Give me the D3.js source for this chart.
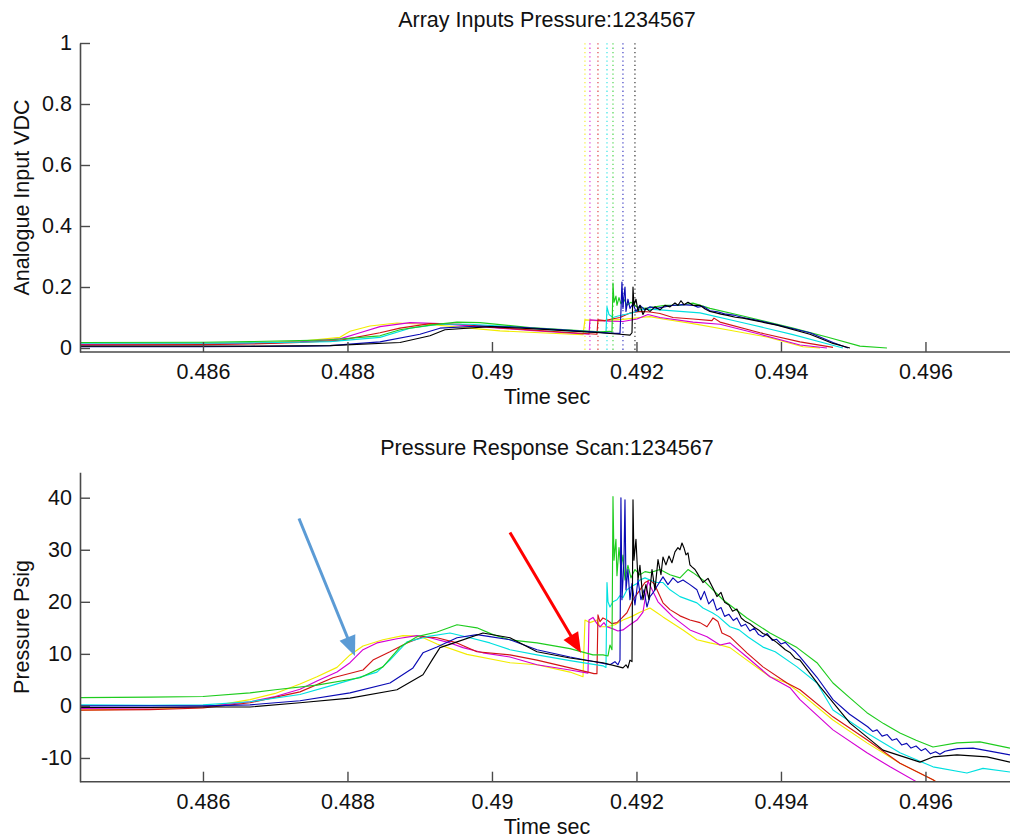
<!DOCTYPE html>
<html><head><meta charset="utf-8">
<script src="https://cdn.jsdelivr.net/npm/d3@7/dist/d3.min.js"></script>
<style>
body{margin:0;background:#fff;}
svg{display:block;}
text{font-family:"Liberation Sans",Arial,sans-serif;fill:#111;}
</style></head><body>
<svg id="chart" width="1010" height="840"></svg>
<script>
// ---------------- data ----------------
const channelNames = ["1","2","3","4","5","6","7"];
const channelColors = ["#f2ec00","#d400d4","#d21414","#00e0e0","#1ecc1e","#0a0ab4","#000000"];
const timeTicks = [0.486,0.488,0.49,0.492,0.494,0.496];
const timeTickLabels = ["0.486","0.488","0.49","0.492","0.494","0.496"];
const vdcTicks = [0,0.2,0.4,0.6,0.8,1];
const vdcTickLabels = ["0","0.2","0.4","0.6","0.8","1"];
const psigTicks = [-10,0,10,20,30,40];
const psigTickLabels = ["-10","0","10","20","30","40"];
const timeDomain = [0.484298,0.49717];
const vdcDomain = [-0.0131,1];
const psigDomain = [-14.56,44.88];
const triggerTimes = [0.491287,0.491356,0.491467,0.491592,0.491675,0.491813,0.491979];

// Analogue input VDC per channel [time s, VDC]
const vdcYellow = [[0.484298,0.012],[0.486,0.013],[0.486651,0.016],[0.487343,0.022],[0.487896,0.035],[0.488035,0.055],[0.488311,0.072],[0.488685,0.082],[0.489142,0.077],[0.489654,0.066],[0.490111,0.056],[0.490664,0.050],[0.49126,0.044],[0.491287,0.092],[0.491495,0.089],[0.491813,0.094],[0.492048,0.1],[0.492187,0.103],[0.492367,0.095],[0.492782,0.08],[0.493253,0.06],[0.493806,0.036],[0.494304,0.004],[0.49454,0]];
const vdcMagenta = [[0.484298,0.012],[0.486,0.013],[0.486651,0.015],[0.487343,0.02],[0.487896,0.03],[0.488173,0.05],[0.48845,0.07],[0.488865,0.083],[0.48928,0.08],[0.489834,0.07],[0.490526,0.058],[0.491343,0.045],[0.491356,0.092],[0.491495,0.09],[0.491633,0.088],[0.491813,0.087],[0.492007,0.095],[0.492159,0.11],[0.492325,0.1],[0.492782,0.085],[0.493156,0.078],[0.493709,0.045],[0.494263,0.01],[0.494637,0]];
const vdcRed = [[0.484298,0.01],[0.486,0.011],[0.486651,0.013],[0.487343,0.018],[0.487896,0.025],[0.48845,0.05],[0.488727,0.065],[0.489142,0.08],[0.489557,0.078],[0.490111,0.066],[0.490803,0.055],[0.491453,0.045],[0.491467,0.092],[0.491564,0.09],[0.491661,0.095],[0.491772,0.1],[0.49191,0.115],[0.492048,0.12],[0.492187,0.118],[0.492325,0.113],[0.492505,0.1],[0.492782,0.095],[0.493045,0.09],[0.493073,0.098],[0.493156,0.085],[0.493709,0.05],[0.494263,0.02],[0.49472,0.002]];
const vdcCyan = [[0.484298,0.016],[0.486,0.016],[0.486651,0.017],[0.487343,0.019],[0.487758,0.021],[0.48845,0.035],[0.488865,0.065],[0.48928,0.078],[0.489695,0.078],[0.490249,0.07],[0.490941,0.058],[0.491578,0.05],[0.491592,0.134],[0.491619,0.11],[0.491675,0.1],[0.491744,0.105],[0.491841,0.11],[0.491938,0.115],[0.492048,0.125],[0.492187,0.127],[0.492325,0.125],[0.492602,0.12],[0.492879,0.115],[0.493474,0.083],[0.494166,0.044],[0.494637,0.014],[0.494858,0]];
const vdcGreen = [[0.484298,0.018],[0.486,0.019],[0.486651,0.021],[0.487343,0.024],[0.487758,0.027],[0.48845,0.04],[0.488727,0.06],[0.489142,0.075],[0.489516,0.085],[0.489834,0.083],[0.490526,0.067],[0.491495,0.053],[0.491633,0.055],[0.491661,0.052],[0.491675,0.213],[0.491689,0.15],[0.491716,0.17],[0.49173,0.14],[0.491758,0.165],[0.491785,0.145],[0.491827,0.16],[0.491868,0.14],[0.491924,0.15],[0.492007,0.135],[0.492118,0.13],[0.492256,0.135],[0.492394,0.14],[0.492602,0.14],[0.492782,0.147],[0.493017,0.13],[0.493474,0.105],[0.494166,0.065],[0.494637,0.036],[0.495093,0.006],[0.495467,0]];
const vdcBlue = [[0.484298,0.004],[0.486,0.004],[0.486651,0.005],[0.487343,0.006],[0.487758,0.008],[0.48845,0.02],[0.489003,0.045],[0.48928,0.065],[0.489834,0.072],[0.490388,0.068],[0.49108,0.058],[0.491702,0.048],[0.491772,0.048],[0.491785,0.12],[0.491799,0.216],[0.491813,0.13],[0.491827,0.17],[0.491841,0.2],[0.491855,0.12],[0.491882,0.16],[0.49191,0.13],[0.491952,0.145],[0.491993,0.12],[0.492048,0.14],[0.492118,0.125],[0.492187,0.135],[0.492284,0.13],[0.492367,0.134],[0.492505,0.14],[0.492644,0.142],[0.492782,0.14],[0.49285,0.134],[0.49292,0.137],[0.493017,0.122],[0.49312,0.119],[0.49322,0.112],[0.49334,0.108],[0.493474,0.1],[0.49362,0.093],[0.49378,0.085],[0.493945,0.076],[0.494401,0.05],[0.49472,0.018],[0.494927,0]];
const vdcBlack = [[0.484298,0.006],[0.486,0.006],[0.486651,0.006],[0.487343,0.007],[0.487758,0.008],[0.488727,0.018],[0.489142,0.04],[0.489349,0.06],[0.489972,0.07],[0.490664,0.062],[0.491495,0.05],[0.491772,0.045],[0.49191,0.042],[0.491938,0.05],[0.491952,0.2],[0.491965,0.14],[0.491993,0.16],[0.492021,0.12],[0.492048,0.14],[0.49209,0.11],[0.492131,0.13],[0.492187,0.12],[0.492256,0.135],[0.492325,0.125],[0.492394,0.14],[0.492464,0.135],[0.492533,0.148],[0.492574,0.14],[0.492616,0.155],[0.492657,0.142],[0.492713,0.15],[0.492782,0.14],[0.492879,0.14],[0.49295,0.128],[0.493017,0.12],[0.49309,0.116],[0.49317,0.111],[0.49326,0.107],[0.49337,0.101],[0.493474,0.098],[0.493945,0.075],[0.494401,0.045],[0.49472,0.015],[0.494955,0]];

// Pressure Psig per channel [time s, psig]
const psiYellow = [[0.484298,-0.8],[0.485266,-0.6],[0.486,-0.3],[0.486651,1.2],[0.487,2.4],[0.487343,4.2],[0.487578,5.6],[0.487855,7.4],[0.488035,9.8],[0.488215,11.5],[0.488491,12.7],[0.488768,13.5],[0.489003,13.4],[0.489239,11.9],[0.489654,9.9],[0.490249,8.3],[0.490623,7.9],[0.49108,6.5],[0.49126,5.6],[0.491287,16.5],[0.491356,16.0],[0.491453,16.5],[0.491495,15.2],[0.491592,15.2],[0.491702,15.6],[0.491813,16.5],[0.491938,17.2],[0.492048,18.0],[0.492187,18.8],[0.492284,17.9],[0.492367,17.1],[0.492644,14.6],[0.492837,12.7],[0.493017,12.1],[0.493156,11.7],[0.493294,11.2],[0.493529,8.8],[0.493848,5.6],[0.494083,4.4],[0.494263,2.5],[0.49472,-2.7],[0.49519,-7.1],[0.495647,-11.0],[0.496104,-14.2],[0.4963,-16]];
const psiMagenta = [[0.484298,-0.5],[0.485266,-0.4],[0.486,-0.2],[0.486651,0.8],[0.487,1.8],[0.487343,3.2],[0.487578,4.8],[0.487855,6.5],[0.488035,8.3],[0.488215,10.8],[0.488408,12.1],[0.488685,12.9],[0.488962,13.5],[0.489142,13.1],[0.489419,12.1],[0.489599,11.2],[0.489875,10.2],[0.490249,9.4],[0.490623,7.9],[0.49108,6.9],[0.491329,6.3],[0.491343,16.5],[0.491398,17.0],[0.491453,15.8],[0.491495,15.2],[0.49155,16.0],[0.491592,15.2],[0.491675,14.8],[0.491744,14.4],[0.491813,14.6],[0.49191,15.6],[0.492007,16.5],[0.49209,18.0],[0.492159,24.0],[0.492228,22.0],[0.492298,20.0],[0.492367,19.0],[0.492505,17.1],[0.49274,14.6],[0.492976,13.3],[0.493156,11.7],[0.493294,12.1],[0.493529,9.4],[0.493848,5.6],[0.494125,3.5],[0.494263,1.2],[0.49472,-4.6],[0.49519,-9.0],[0.49551,-11.7],[0.49588,-14.6],[0.4961,-16]];
const psiRed = [[0.484298,-0.8],[0.485266,-0.7],[0.486,-0.4],[0.486651,0.6],[0.487343,2.7],[0.487799,5.4],[0.488215,6.9],[0.488353,8.8],[0.488588,10.4],[0.488824,12.1],[0.489045,13.3],[0.489239,13.1],[0.489516,12.1],[0.489792,10.4],[0.490249,9.8],[0.490623,8.8],[0.49108,7.3],[0.491329,6.5],[0.491412,6.2],[0.491453,6.2],[0.491467,17.5],[0.491495,16.2],[0.491536,16.9],[0.491592,16.5],[0.491661,15.8],[0.49173,16.0],[0.491799,16.9],[0.491868,17.9],[0.491952,20.4],[0.492048,22.3],[0.492118,23.7],[0.492187,24.2],[0.492256,23.3],[0.492284,22.3],[0.492367,19.8],[0.492464,18.5],[0.492602,17.3],[0.49274,16.5],[0.492879,16.0],[0.492976,15.2],[0.493059,16.9],[0.493128,16.2],[0.493183,14.0],[0.493294,13.3],[0.493529,10.2],[0.493751,7.5],[0.494083,4.4],[0.494263,3.1],[0.49472,-2.1],[0.49519,-6.5],[0.495647,-11.0],[0.496104,-14.2],[0.4963,-16]];
const psiCyan = [[0.484298,0.2],[0.485266,0.1],[0.486,0.2],[0.486651,0.8],[0.487343,2.2],[0.487799,4.0],[0.488408,6.5],[0.488588,8.8],[0.488824,12.3],[0.4891,13.3],[0.489419,14.0],[0.489695,13.1],[0.489972,12.1],[0.490249,10.8],[0.490623,9.8],[0.49108,8.7],[0.491536,7.7],[0.491578,7.4],[0.491592,23.7],[0.491606,20.0],[0.491633,19.0],[0.491675,20.0],[0.49173,20.4],[0.491772,21.2],[0.491813,20.8],[0.491868,22.3],[0.491938,23.0],[0.492007,23.5],[0.492048,24.2],[0.492118,24.6],[0.492187,24.2],[0.492284,23.7],[0.492367,23.7],[0.492464,22.3],[0.492602,21.0],[0.492837,19.8],[0.49292,18.8],[0.49305,17.9],[0.49313,17.2],[0.493294,15.2],[0.49342,14.6],[0.49355,13.2],[0.493751,11.3],[0.49392,10.4],[0.494222,7.5],[0.494498,4.4],[0.49472,-0.8],[0.49519,-5.2],[0.495647,-9.0],[0.496104,-11.7],[0.496574,-12.9],[0.496796,-12.0],[0.49717,-12.7]];
const psiGreen = [[0.484298,1.6],[0.485266,1.7],[0.486,1.8],[0.486651,2.5],[0.487,3.1],[0.487578,4.0],[0.488173,5.4],[0.488491,7.5],[0.488727,11.3],[0.488962,13.3],[0.489239,14.2],[0.489516,15.6],[0.489792,15.0],[0.490014,13.7],[0.490249,12.7],[0.490623,12.1],[0.49108,11.0],[0.491398,9.8],[0.491536,9.8],[0.491606,9.6],[0.491633,11.7],[0.491661,10.8],[0.491675,40.2],[0.491689,28],[0.491716,32],[0.49173,25],[0.491758,30.4],[0.491785,26.2],[0.491813,29],[0.491841,24.2],[0.491882,27],[0.491924,24.6],[0.491979,26.2],[0.492048,25.2],[0.492118,25.8],[0.492187,25.6],[0.492325,26.2],[0.492464,25.2],[0.492602,24.6],[0.492713,26.2],[0.492782,25.6],[0.49292,24.2],[0.493197,20.4],[0.493529,16.9],[0.493848,14.0],[0.494222,11.2],[0.494498,8.3],[0.49472,4.4],[0.49495,1.6],[0.49519,-1.3],[0.49542,-3.4],[0.495647,-5.2],[0.49587,-6.6],[0.496104,-7.9],[0.496436,-7.1],[0.496754,-6.9],[0.49717,-8.1]];
const psiBlue = [[0.484298,0.0],[0.485266,0.0],[0.486,0.0],[0.486651,0.2],[0.487343,1.0],[0.488035,2.5],[0.488588,4.4],[0.488907,7.3],[0.489045,10.2],[0.489239,11.3],[0.489516,13.1],[0.489792,13.7],[0.489972,13.3],[0.490249,12.7],[0.490623,10.8],[0.49108,9.4],[0.491633,7.9],[0.491702,8.5],[0.491744,7.9],[0.491772,8.8],[0.491785,40],[0.491799,20.4],[0.491827,28],[0.491841,39.6],[0.491855,22.3],[0.491882,26.2],[0.49191,20.4],[0.491938,23.5],[0.491979,19.4],[0.492021,24.2],[0.492062,20.4],[0.492104,22.3],[0.492145,19.0],[0.492187,21.0],[0.492228,21.7],[0.492284,23.0],[0.492367,24.8],[0.492436,23.3],[0.492505,24.6],[0.492574,23.7],[0.492644,24.2],[0.49274,23.3],[0.492837,22.3],[0.49289,20.4],[0.49294,22.0],[0.493,19.6],[0.49306,20.5],[0.49311,18.4],[0.49317,18.9],[0.49322,17.2],[0.49328,17.6],[0.49334,16.4],[0.49339,16.9],[0.49345,15.3],[0.49351,15.7],[0.49357,14.4],[0.49363,14.9],[0.49369,13.7],[0.49375,13.3],[0.49381,13.9],[0.49388,12.6],[0.49394,12.8],[0.494,11.9],[0.49406,12.2],[0.49413,11.2],[0.4942,10.4],[0.494263,9.4],[0.494498,5.5],[0.49472,1.2],[0.49495,-1.6],[0.4952,-4.0],[0.49527,-4.9],[0.49533,-4.6],[0.4954,-5.8],[0.49547,-5.5],[0.49554,-6.6],[0.4956,-6.3],[0.49567,-7.5],[0.49574,-7.2],[0.4958,-8.1],[0.49587,-7.7],[0.49594,-8.6],[0.496,-8.2],[0.49607,-9.2],[0.49614,-8.8],[0.4962,-9.3],[0.49627,-8.7],[0.496339,-8.5],[0.49645,-8.2],[0.496657,-8.1],[0.49685,-8.6],[0.49717,-9.4]];
const psiBlack = [[0.484298,-0.3],[0.485266,-0.3],[0.486,-0.2],[0.486651,-0.2],[0.487343,0.6],[0.488035,1.5],[0.488685,3.1],[0.489045,6.0],[0.48917,8.8],[0.48928,11.2],[0.489516,12.3],[0.489875,14.0],[0.490249,13.1],[0.490623,10.4],[0.49108,9.2],[0.491536,8.3],[0.491813,7.3],[0.491855,7.9],[0.491882,7.3],[0.49191,8.8],[0.491938,8.5],[0.491952,39.6],[0.491965,28],[0.491993,32],[0.492021,24.2],[0.492048,27],[0.49209,20.4],[0.492131,23.3],[0.492173,20.4],[0.492215,26.2],[0.492256,22.3],[0.492298,28.1],[0.492339,25.2],[0.492367,28.6],[0.492408,27.1],[0.49245,28.8],[0.492491,27.5],[0.492533,29.6],[0.492574,30.4],[0.492602,30.0],[0.49263,31.3],[0.492657,30.4],[0.492685,29.0],[0.492713,29.4],[0.49274,27.1],[0.492768,26.7],[0.49281,26.2],[0.492837,25.6],[0.49292,23.7],[0.49299,24.5],[0.49306,22.6],[0.493114,21.0],[0.49317,21.8],[0.49322,19.9],[0.49328,19.4],[0.49333,18.2],[0.49339,18.6],[0.49345,16.9],[0.49351,16.2],[0.49357,15.8],[0.49363,15.1],[0.49369,14.6],[0.49375,13.9],[0.49381,13.6],[0.49388,12.8],[0.49394,12.2],[0.494,11.5],[0.49406,10.8],[0.49413,10.2],[0.4942,9.1],[0.494263,8.8],[0.49454,3.7],[0.494955,-3.3],[0.495412,-8.5],[0.495924,-10.8],[0.496104,-9.8],[0.496436,-9.4],[0.496851,-9.8],[0.49717,-10.8]];

const vdcSeries = [vdcYellow,vdcMagenta,vdcRed,vdcCyan,vdcGreen,vdcBlue,vdcBlack];
const psiSeries = [psiYellow,psiMagenta,psiRed,psiCyan,psiGreen,psiBlue,psiBlack];

// annotation arrows [time s, psig]: start, tip
const arrowBlue = [[0.487329,36.0],[0.488104,9.6]];
const arrowRed = [[0.490249,33.3],[0.491232,10.2]];
const arrowColors = ["#5b9bd5","#ff0000"];

// ---------------- drawing ----------------
const svg = d3.select("#chart");
const FS = 21.5;
const axisColor = "#4a4a4a";

function panel(opt){
  const x = d3.scaleLinear().domain(timeDomain).range([80,1010]);
  const y = d3.scaleLinear().domain(opt.yDomain).range([opt.bottom, opt.top]);
  const g = svg.append("g");
  const clipId = "clip"+opt.id;
  svg.append("clipPath").attr("id",clipId).append("rect")
    .attr("x",80).attr("y",opt.top-2).attr("width",932).attr("height",opt.bottom-opt.top+1.5);

  const plot = g.append("g").attr("clip-path","url(#"+clipId+")");
  if(opt.triggers){
    plot.selectAll("line.trig").data(opt.triggers).join("line")
      .attr("class","trig")
      .attr("x1",d=>x(d)).attr("x2",d=>x(d))
      .attr("y1",opt.top-4).attr("y2",opt.bottom)
      .attr("stroke",(d,i)=>channelColors[i])
      .attr("stroke-width",1.1)
      .attr("stroke-dasharray","1.3,3")
      .attr("opacity",0.85);
  }
  const line = d3.line().x(d=>x(d[0])).y(d=>y(d[1]));
  plot.selectAll("path.series").data(opt.series).join("path")
    .attr("class","series")
    .attr("d",line)
    .attr("fill","none")
    .attr("stroke",(d,i)=>channelColors[i])
    .attr("stroke-width",1.15)
    .attr("stroke-linejoin","round");

  const xa = d3.axisBottom(x).tickValues(timeTicks).tickFormat((d,i)=>timeTickLabels[i])
    .tickSizeInner(-10).tickSizeOuter(0).tickPadding(12);
  const ya = d3.axisLeft(y).tickValues(opt.yTicks).tickFormat((d,i)=>opt.yLabels[i])
    .tickSizeInner(-10).tickSizeOuter(0).tickPadding(8);
  const gx = g.append("g").attr("transform",`translate(0,${opt.bottom})`).call(xa);
  const gy = g.append("g").attr("transform",`translate(80,0)`).call(ya);
  [gx,gy].forEach(a=>{
    a.select(".domain").attr("stroke",axisColor).attr("stroke-width",1.6);
    a.selectAll(".tick line").attr("stroke",axisColor).attr("stroke-width",1.4);
    a.selectAll(".tick text").attr("font-size",FS).attr("fill","#111")
      .attr("font-family","'Liberation Sans',Arial,sans-serif");
  });
  gx.select(".domain").attr("d",`M80,0H1010`);

  g.append("text").attr("x",547).attr("y",opt.titleY).attr("text-anchor","middle")
    .attr("font-size",FS).text(opt.title);
  g.append("text").attr("x",547).attr("y",opt.xLabelY).attr("text-anchor","middle")
    .attr("font-size",FS).text("Time sec");
  g.append("text").attr("transform",`translate(${opt.yLabelX},${(opt.top+opt.bottom)/2}) rotate(-90)`)
    .attr("text-anchor","middle").attr("font-size",FS).text(opt.yLabel);
  return {x,y,g};
}

panel({id:"a",top:43,bottom:352,yDomain:vdcDomain,yTicks:vdcTicks,yLabels:vdcTickLabels,
  series:vdcSeries,triggers:triggerTimes,title:"Array Inputs Pressure:1234567",titleY:27,
  xLabelY:404,yLabel:"Analogue Input VDC",yLabelX:29});

const p2 = panel({id:"b",top:472.3,bottom:781.7,yDomain:psigDomain,yTicks:psigTicks,yLabels:psigTickLabels,
  series:psiSeries,triggers:null,title:"Pressure Response Scan:1234567",titleY:455,
  xLabelY:834,yLabel:"Pressure Psig",yLabelX:29});

function arrow(a,color){
  const x0=p2.x(a[0][0]), y0=p2.y(a[0][1]), x1=p2.x(a[1][0]), y1=p2.y(a[1][1]);
  const dx=x1-x0, dy=y1-y0, L=Math.hypot(dx,dy), ux=dx/L, uy=dy/L;
  const hl=20, hw=8.5;
  const bx=x1-ux*hl, by=y1-uy*hl;
  svg.append("line").attr("x1",x0).attr("y1",y0).attr("x2",bx+ux*2).attr("y2",by+uy*2)
    .attr("stroke",color).attr("stroke-width",3);
  svg.append("path").attr("d",`M${x1},${y1}L${bx-uy*hw},${by+ux*hw}L${bx+uy*hw},${by-ux*hw}Z`)
    .attr("fill",color);
}
arrow(arrowBlue,arrowColors[0]);
arrow(arrowRed,arrowColors[1]);
</script>
</body></html>
